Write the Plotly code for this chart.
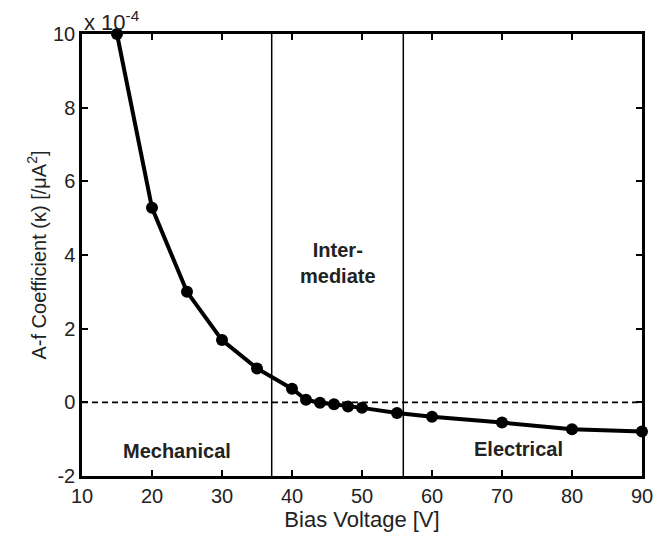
import plotly.graph_objects as go

bias_voltage = [15, 20, 25, 30, 35, 40, 42, 44, 46, 48, 50, 55, 60, 70, 80, 90]
af_coefficient = [10.0, 5.28, 3.0, 1.69, 0.92, 0.37, 0.07, -0.01, -0.05, -0.11, -0.15, -0.29, -0.39, -0.55, -0.73, -0.79]  # x 1e-4
region_bounds = [37.1, 55.9]
x_ticks = [10, 20, 30, 40, 50, 60, 70, 80, 90]
y_ticks = [-2, 0, 2, 4, 6, 8, 10]
region_labels = ["Mechanical", "Inter-<br>mediate", "Electrical"]
region_label_pos = [(23.5, -1.33), (46.5, 3.78), (72.3, -1.28)]

FONT = "Liberation Sans, Arial, sans-serif"

fig = go.Figure()

# zero dashed line
fig.add_trace(go.Scatter(x=[10, 90], y=[0, 0], mode="lines",
                         line=dict(color="black", width=1.8, dash="6px,4px"),
                         hoverinfo="skip", showlegend=False))
# region boundaries
for xb in region_bounds:
    fig.add_trace(go.Scatter(x=[xb, xb], y=[-2, 10], mode="lines",
                             line=dict(color="black", width=1.5),
                             hoverinfo="skip", showlegend=False))

fig.add_trace(go.Scatter(x=bias_voltage, y=af_coefficient, mode="lines+markers",
                         line=dict(color="black", width=4),
                         marker=dict(color="black", size=12),
                         cliponaxis=False, showlegend=False))

for txt, (xx, yy) in zip(region_labels, region_label_pos):
    fig.add_annotation(x=xx, y=yy, text="<b>" + txt.replace("<br>", "</b><br><b>") + "</b>",
                       showarrow=False,
                       font=dict(family=FONT, size=20, color="#222"))

fig.add_annotation(xref="paper", yref="paper", x=0.0, y=1.0, xanchor="left", yanchor="bottom",
                   text="x 10<sup>-4</sup>", showarrow=False, yshift=-3,
                   font=dict(family=FONT, size=22, color="#222"))

axis_common = dict(showline=True, linecolor="black", linewidth=2.5, mirror="ticks",
                   ticks="inside", ticklen=6, tickwidth=1.5, tickcolor="black",
                   showgrid=False, zeroline=False,
                   tickfont=dict(family=FONT, size=20, color="#222"))

fig.update_xaxes(range=[10, 90], tickvals=x_ticks, ticktext=[str(v) for v in x_ticks],
                 title=dict(text="Bias Voltage [V]", standoff=0,
                            font=dict(family=FONT, size=22, color="#222")),
                 **axis_common)
fig.update_yaxes(range=[-2, 10], tickvals=y_ticks, ticktext=[str(v) for v in y_ticks],
                 title=dict(text="A-f Coefficient (κ) [/μA<sup>2</sup>]", standoff=2,
                            font=dict(family=FONT, size=20, color="#222")),
                 **axis_common)

fig.update_layout(width=672, height=536, plot_bgcolor="white", paper_bgcolor="white",
                  margin=dict(l=82, r=30, t=34, b=60))

fig.write_html("out.html")
